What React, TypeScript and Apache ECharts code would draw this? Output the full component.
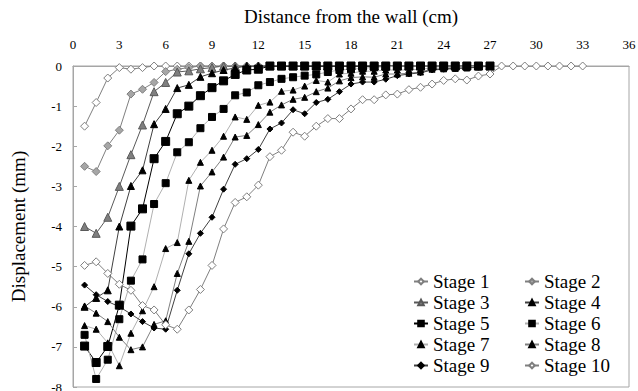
import React, { useEffect, useRef } from "react";
import * as echarts from "echarts";

const xValues = [0.75, 1.5, 2.25, 3, 3.75, 4.5, 5.25, 6, 6.75, 7.5, 8.25, 9, 9.75, 10.5, 11.25, 12, 12.75, 13.5, 14.25, 15, 15.75, 16.5, 17.25, 18, 18.75, 19.5, 20.25, 21, 21.75, 22.5, 23.25, 24, 24.75, 25.5, 26.25, 27, 27.75, 28.5, 29.25, 30, 30.75, 31.5, 32.25, 33];

const stage1 = [-1.5, -0.91, -0.3, -0.04, -0.08, -0.04, 0, 0, 0, 0, 0, 0, 0, 0, 0, 0, 0, 0, 0, 0, 0, 0, 0, 0, 0, 0, 0, 0, 0, 0, 0, 0, 0, 0, 0, 0];
const stage2 = [-2.5, -2.63, -1.99, -1.6, -0.7, -0.58, -0.41, -0.14, -0.08, -0.04, 0, 0, 0, 0, 0, 0, 0, 0, 0, 0, 0, 0, 0, 0, 0, 0, 0, 0, 0, 0, 0, 0, 0, 0, 0, 0];
const stage3 = [-4.0, -4.17, -3.77, -3.0, -2.21, -1.47, -0.64, -0.41, -0.15, -0.12, -0.07, -0.04, 0, 0, 0, 0, 0, 0, 0, 0, 0, 0, 0, 0, 0, 0, 0, 0, 0, 0, 0, 0, 0, 0, 0, 0];
const stage4 = [-6.0, -5.78, -5.59, -4.0, -2.99, -2.6, -1.45, -1.07, -0.55, -0.47, -0.27, -0.18, -0.1, -0.05, 0, 0, 0, 0, 0, 0, 0, 0, 0, 0, 0, 0, 0, 0, 0, 0, 0, 0, 0, 0, 0, 0];
const stage5 = [-6.98, -7.39, -6.99, -5.96, -3.99, -3.56, -2.31, -1.88, -1.19, -1.0, -0.74, -0.54, -0.37, -0.21, -0.1, -0.08, 0, 0, 0, 0, 0, 0, 0, 0, 0, 0, 0, 0, 0, 0, 0, 0, 0, 0, 0, 0];
const stage6 = [-6.7, -7.8, -7.32, -6.31, -5.35, -4.82, -3.44, -2.92, -2.15, -1.9, -1.55, -1.27, -1.07, -0.73, -0.66, -0.48, -0.4, -0.32, -0.28, -0.24, -0.21, -0.15, -0.1, -0.08, -0.06, -0.03, -0.02, 0, 0, 0, 0, 0, 0, 0, 0, 0];
const stage7 = [-6.47, -6.56, -6.9, -7.47, -6.66, -6.1, -5.5, -4.55, -4.4, -2.85, -2.4, -2.1, -1.75, -1.27, -1.33, -0.98, -0.9, -0.63, -0.6, -0.5, -0.36, -0.4, -0.2, -0.18, -0.13, -0.13, -0.1, -0.1, -0.1, -0.08, -0.05, -0.05, -0.03, -0.03, -0.01, 0];
const stage8 = [-5.98, -6.16, -6.37, -6.76, -7.07, -7.0, -6.44, -6.35, -5.17, -4.37, -2.99, -2.64, -2.27, -1.77, -1.73, -1.46, -1.15, -0.97, -0.83, -0.78, -0.64, -0.55, -0.37, -0.29, -0.27, -0.28, -0.2, -0.2, -0.18, -0.15, -0.08, -0.07, -0.06, -0.05, -0.02, 0];
const stage9 = [-5.46, -5.7, -5.87, -6.0, -6.18, -6.37, -6.53, -6.56, -5.59, -4.68, -4.17, -3.77, -3.07, -2.45, -2.31, -2.08, -1.57, -1.42, -1.09, -1.19, -0.91, -0.83, -0.64, -0.45, -0.4, -0.4, -0.33, -0.24, -0.2, -0.17, -0.1, -0.08, -0.06, -0.05, -0.03, 0];
const stage10 = [-4.97, -4.88, -5.17, -5.44, -5.59, -5.97, -6.08, -6.45, -6.56, -6.08, -5.57, -4.97, -4.06, -3.4, -3.26, -2.97, -2.26, -2.1, -1.65, -1.75, -1.5, -1.31, -1.31, -1.07, -0.84, -0.84, -0.72, -0.7, -0.59, -0.53, -0.45, -0.36, -0.32, -0.35, -0.25, -0.2, 0, 0, 0, 0, 0, 0, 0, 0];

const stageNames = ["Stage 1", "Stage 2", "Stage 3", "Stage 4", "Stage 5", "Stage 6", "Stage 7", "Stage 8", "Stage 9", "Stage 10"];
const stageValues = [stage1, stage2, stage3, stage4, stage5, stage6, stage7, stage8, stage9, stage10];

const xTickMin = 0;
const xTickMax = 36;
const xTickStep = 3;
const yTickMin = -8;
const yTickMax = 0;
const yTickStep = 1;

const FONT = "Liberation Serif";

type Style = { symbol: string; size: number; fill: string; border: string; line: string };
const styles: Style[] = [
  { symbol: "diamond", size: 8, fill: "#ffffff", border: "#7f7f7f", line: "#7f7f7f" },
  { symbol: "diamond", size: 8, fill: "#a6a6a6", border: "#7f7f7f", line: "#7f7f7f" },
  { symbol: "triangle", size: 8, fill: "#7f7f7f", border: "#595959", line: "#595959" },
  { symbol: "triangle", size: 7, fill: "#000000", border: "#000000", line: "#404040" },
  { symbol: "rect", size: 8, fill: "#000000", border: "#000000", line: "#000000" },
  { symbol: "rect", size: 7, fill: "#000000", border: "#000000", line: "#b0b0b0" },
  { symbol: "triangle", size: 6, fill: "#000000", border: "#000000", line: "#b0b0b0" },
  { symbol: "triangle", size: 6, fill: "#000000", border: "#000000", line: "#7f7f7f" },
  { symbol: "diamond", size: 6, fill: "#000000", border: "#000000", line: "#404040" },
  { symbol: "diamond", size: 8, fill: "#ffffff", border: "#7f7f7f", line: "#7f7f7f" },
];

export default function App() {
  const ref = useRef<HTMLDivElement>(null);
  useEffect(() => {
    document.body.style.margin = "0";
    if (!ref.current) return;
    const chart = echarts.init(ref.current, undefined, { renderer: "svg" });
    const series = stageNames.map((name, i) => {
      const st = styles[i];
      return {
        name,
        type: "line",
        data: stageValues[i].map((v, j) => [xValues[j], v]),
        symbol: st.symbol,
        symbolSize: st.size,
        showAllSymbol: true,
        itemStyle: { color: st.fill, borderColor: st.border, borderWidth: 1 },
        lineStyle: { color: st.line, width: 1 },
        emphasis: { disabled: true },
      };
    });
    const legendBase = {
      orient: "vertical",
      top: 272,
      padding: 0,
      itemGap: 2,
      itemWidth: 14,
      itemHeight: 7,
      textStyle: { fontFamily: FONT, fontSize: 19, color: "#000" },
    };
    chart.setOption({
      animation: false,
      textStyle: { fontFamily: FONT },
      grid: {
        left: 73,
        top: 66,
        right: 9,
        bottom: 4,
        outerBoundsMode: "none",
        containLabel: false,
        show: true,
        borderColor: "#a6a6a6",
        borderWidth: 1,
      },
      legend: [
        { ...legendBase, left: 413, data: ["Stage 1", "Stage 3", "Stage 5", "Stage 7", "Stage 9"] },
        { ...legendBase, left: 524, data: ["Stage 2", "Stage 4", "Stage 6", "Stage 8", "Stage 10"] },
      ],
      xAxis: {
        type: "value",
        position: "top",
        min: xTickMin,
        max: xTickMax,
        interval: xTickStep,
        name: "Distance from the wall (cm)",
        nameLocation: "middle",
        nameGap: 40,
        nameTextStyle: { fontFamily: FONT, fontSize: 19, color: "#000" },
        axisLine: { show: true, lineStyle: { color: "#a6a6a6" } },
        axisTick: { show: false },
        splitLine: { show: false },
        axisLabel: { fontFamily: FONT, fontSize: 13, color: "#000", margin: 15 },
      },
      yAxis: {
        type: "value",
        min: yTickMin,
        max: yTickMax,
        interval: yTickStep,
        name: "Displacement (mm)",
        nameLocation: "middle",
        nameGap: 45,
        nameTextStyle: { fontFamily: FONT, fontSize: 19, color: "#000" },
        axisLine: { show: true, lineStyle: { color: "#a6a6a6" } },
        axisTick: { show: true, inside: true, length: 4, lineStyle: { color: "#a6a6a6" } },
        splitLine: { show: false },
        axisLabel: { fontFamily: FONT, fontSize: 13, color: "#000", margin: 11 },
      },
      series,
    });
    return () => chart.dispose();
  }, []);
  return <div ref={ref} style={{ width: 638, height: 391 }} />;
}
